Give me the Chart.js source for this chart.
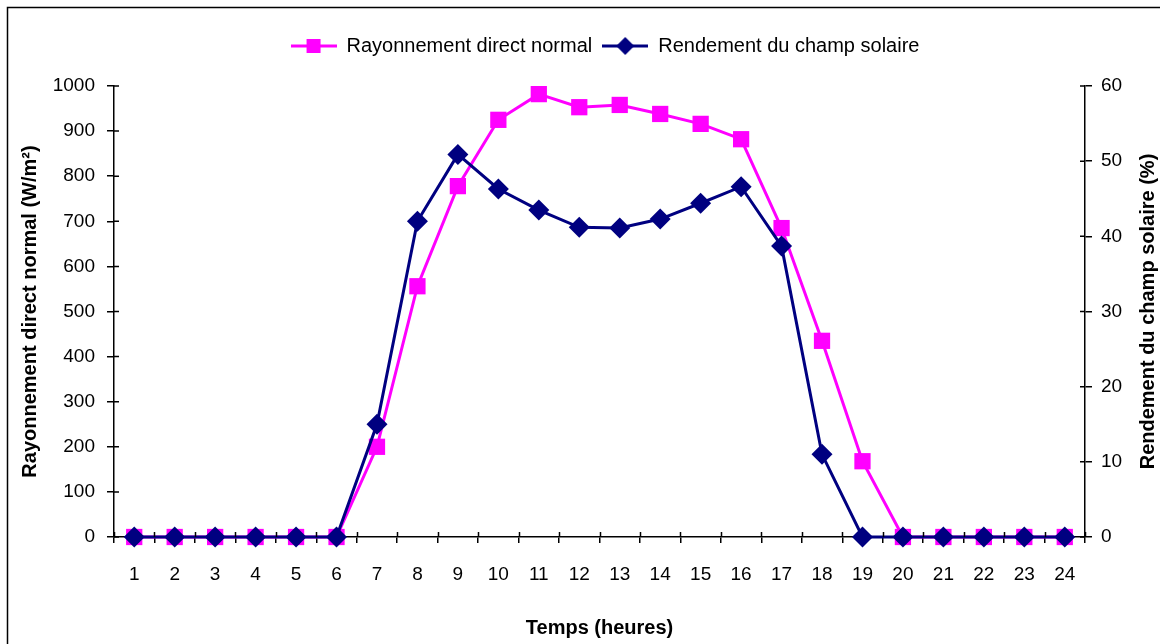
<!DOCTYPE html>
<html><head><meta charset="utf-8">
<script src="https://cdn.jsdelivr.net/npm/chart.js@4.4.1/dist/chart.umd.min.js"></script>
<style>html,body{margin:0;padding:0;background:#fff;}#wrap{width:1160px;height:644px;position:relative;}</style>
</head><body><div id="wrap"><canvas id="c" width="1160" height="644"></canvas></div>
<script>
const hours = ['1','2','3','4','5','6','7','8','9','10','11','12','13','14','15','16','17','18','19','20','21','22','23','24'];
const rayonnement = [0,0,0,0,0,0,200,556,778,925,982,953,958,938,916,882,685,435,168,0,0,0,0,0];
const rendement = [0,0,0,0,0,0,15.0,42.0,50.9,46.3,43.5,41.2,41.1,42.3,44.4,46.6,38.7,11.0,0,0,0,0,0,0];
const labelRay = 'Rayonnement direct normal';
const labelRend = 'Rendement du champ solaire';
const titleLeft = 'Rayonnement direct normal (W/m²)';
const titleRight = 'Rendement du champ solaire (%)';
const titleX = 'Temps (heures)';

const FONT = 'Liberation Sans, Arial, sans-serif';
const MAGENTA = '#FF00FF', NAVY = '#000080';

function legendIcon(color, shape){
  const c = document.createElement('canvas');
  c.width = 46; c.height = 20;
  const x = c.getContext('2d');
  x.strokeStyle = color; x.lineWidth = 3;
  x.beginPath(); x.moveTo(0,10); x.lineTo(46,10); x.stroke();
  x.fillStyle = color;
  if (shape === 'square') { x.fillRect(16,3,14,14); }
  else { x.beginPath(); x.moveTo(23,1); x.lineTo(32,10); x.lineTo(23,19); x.lineTo(14,10); x.closePath(); x.fill(); }
  return c;
}

const legendGap = {
  id: 'legendGap',
  beforeUpdate(chart){
    const lg = chart.legend;
    if (lg && !lg._gapPatched){
      const f = lg.fit;
      lg.fit = function(){ f.call(this); this.height += 20; };
      lg._gapPatched = true;
    }
  },
  afterLayout(chart){
    const lg = chart.legend;
    if (lg) { lg.left += 25; lg.right += 25; }
  }
};

const extras = {
  id: 'extras',
  afterDraw(chart){
    const ctx = chart.ctx, a = chart.chartArea;
    ctx.save();
    ctx.strokeStyle = '#000'; ctx.lineWidth = 1.5;
    ctx.strokeRect(7.5, 7.5, 1400, 800);
    const xs = chart.scales.x, yl = chart.scales.y, yr = chart.scales.y1;
    const n = hours.length;
    ctx.beginPath();
    for (let i = 0; i <= n; i++) {
      const px = Math.round(xs.left + i * xs.width / n) + 0.5;
      ctx.moveTo(px, a.bottom); ctx.lineTo(px, a.bottom - 5);
    }
    yl.ticks.forEach((t, i) => { const py = yl.getPixelForTick(i); ctx.moveTo(a.left, py); ctx.lineTo(a.left + 5, py); });
    yr.ticks.forEach((t, i) => { const py = yr.getPixelForTick(i); ctx.moveTo(a.right, py); ctx.lineTo(a.right - 5, py); });
    ctx.stroke();
    ctx.fillStyle = '#000';
    ctx.font = 'bold 20px ' + FONT;
    ctx.textAlign = 'center'; ctx.textBaseline = 'middle';
    ctx.translate(1148, (a.top + a.bottom) / 2);
    ctx.rotate(-Math.PI / 2);
    ctx.fillText(titleRight, 0, 0);
    ctx.restore();
  }
};

new Chart(document.getElementById('c'), {
  type: 'line',
  data: {
    labels: hours,
    datasets: [
      { label: labelRay, data: rayonnement, yAxisID: 'y', borderColor: MAGENTA, backgroundColor: MAGENTA, clip: false,
        borderWidth: 3, pointStyle: 'rect', pointRadius: 11.5, pointHoverRadius: 11.5, pointBorderWidth: 0, tension: 0, order: 1 },
      { label: labelRend, data: rendement, yAxisID: 'y1', borderColor: NAVY, backgroundColor: NAVY, clip: false,
        borderWidth: 3, pointStyle: 'rectRot', pointRadius: 10.5, pointHoverRadius: 10.5, pointBorderWidth: 0, tension: 0, order: 0 }
    ]
  },
  options: {
    responsive: false, animation: false,
    layout: { padding: { top: 26, left: 0, right: 0, bottom: 0 } },
    plugins: {
      tooltip: { enabled: false },
      legend: {
        position: 'top',
        labels: {
          usePointStyle: true, pointStyleWidth: 46, padding: 10,
          color: '#000', font: { family: FONT, size: 20 },
          sort: (a, b) => a.datasetIndex - b.datasetIndex,
          generateLabels(chart) {
            return chart.data.datasets.map((d, i) => ({
              text: d.label, datasetIndex: i, fontColor: '#000', hidden: false, lineWidth: 0,
              strokeStyle: d.borderColor, fillStyle: d.backgroundColor,
              pointStyle: legendIcon(d.borderColor, i === 0 ? 'square' : 'diamond')
            }));
          }
        }
      }
    },
    scales: {
      x: {
        offset: true,
        grid: { display: true, drawOnChartArea: false, drawTicks: true, tickLength: 6, color: '#000', lineWidth: 1.5, offset: true },
        border: { display: true, color: '#000', width: 1.5 },
        ticks: { color: '#000', font: { family: FONT, size: 19 }, padding: 20, maxRotation: 0, autoSkip: false },
        title: { display: true, text: titleX, color: '#000', font: { family: FONT, size: 20, weight: 'bold' }, padding: { top: 18 } },
        afterFit(s) { s.height = 107; }
      },
      y: {
        position: 'left', min: 0, max: 1000,
        grid: { display: true, drawOnChartArea: false, drawTicks: true, tickLength: 7, color: '#000', lineWidth: 1.5 },
        border: { display: true, color: '#000', width: 1.5 },
        ticks: { stepSize: 100, color: '#000', font: { family: FONT, size: 19 }, padding: 12, callback: v => String(v) },
        title: { display: true, text: titleLeft, color: '#000', font: { family: FONT, size: 20, weight: 'bold' }, padding: { top: 18 } },
        afterFit(s) { s.width = 114; }
      },
      y1: {
        position: 'right', min: 0, max: 60,
        grid: { display: true, drawOnChartArea: false, drawTicks: true, tickLength: 7, color: '#000', lineWidth: 1.5 },
        border: { display: true, color: '#000', width: 1.5 },
        ticks: { stepSize: 10, color: '#000', font: { family: FONT, size: 19 }, padding: 9, callback: v => String(v) },
        afterFit(s) { s.width = 75; }
      }
    }
  },
  plugins: [legendGap, extras]
});
</script></body></html>
